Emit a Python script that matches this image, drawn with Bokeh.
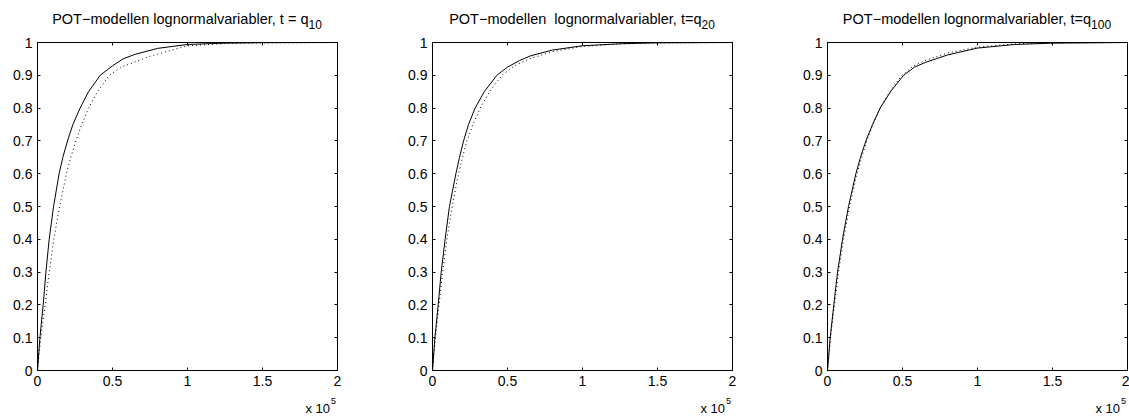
from bokeh.plotting import figure
from bokeh.models import Range1d, LinearAxis, FixedTicker, Div
from bokeh.layouts import row, column
from bokeh.embed import file_html
from bokeh.resources import INLINE

# x values are in units of 10^5
title_mains = ["POT\u2212modellen lognormalvariabler, t = q",
               "POT\u2212modellen&nbsp; lognormalvariabler, t=q",
               "POT\u2212modellen lognormalvariabler, t=q"]
title_subs = ["10", "20", "100"]
x_scale_base = "x 10"
x_scale_exp = "5"

x_ticks = [0, 0.5, 1, 1.5, 2]
x_tick_labels = ["0", "0.5", "1", "1.5", "2"]
y_ticks = [0, 0.1, 0.2, 0.3, 0.4, 0.5, 0.6, 0.7, 0.8, 0.9, 1]
y_tick_labels = ["0", "0.1", "0.2", "0.3", "0.4", "0.5", "0.6", "0.7", "0.8", "0.9", "1"]

# panel 1 (t = q10)
p1_solid_x = [0, 0.016, 0.038, 0.056, 0.078, 0.107, 0.144, 0.169, 0.2, 0.236, 0.284, 0.34, 0.418, 0.5, 0.57, 0.651, 0.8, 1.0, 1.25, 1.5, 2.0]
p1_solid_y = [0, 0.1, 0.2, 0.3, 0.4, 0.5, 0.6, 0.65, 0.7, 0.75, 0.8, 0.85, 0.9, 0.929, 0.95, 0.964, 0.982, 0.994, 0.998, 0.9995, 1.0]
p1_dot_x = [0, 0.022, 0.051, 0.078, 0.109, 0.147, 0.193, 0.222, 0.256, 0.295, 0.34, 0.4, 0.478, 0.56, 0.651, 0.75, 0.873, 1.0, 1.25, 1.5, 2.0]
p1_dot_y = [0, 0.1, 0.2, 0.3, 0.4, 0.5, 0.6, 0.65, 0.7, 0.75, 0.8, 0.85, 0.9, 0.925, 0.941, 0.958, 0.974, 0.99, 0.997, 0.999, 1.0]

# panel 2 (t = q20)
p2_solid_x = [0, 0.016, 0.038, 0.058, 0.084, 0.113, 0.156, 0.18, 0.207, 0.24, 0.284, 0.345, 0.429, 0.5, 0.58, 0.651, 0.8, 1.0, 1.25, 1.5, 2.0]
p2_solid_y = [0, 0.1, 0.2, 0.3, 0.4, 0.5, 0.6, 0.65, 0.7, 0.75, 0.8, 0.85, 0.9, 0.925, 0.945, 0.959, 0.977, 0.99, 0.996, 0.999, 1.0]
p2_dot_x = [0, 0.02, 0.044, 0.067, 0.096, 0.131, 0.173, 0.2, 0.229, 0.27, 0.318, 0.38, 0.462, 0.55, 0.651, 0.8, 1.0, 1.25, 1.5, 2.0]
p2_dot_y = [0, 0.1, 0.2, 0.3, 0.4, 0.5, 0.6, 0.65, 0.7, 0.75, 0.8, 0.85, 0.9, 0.93, 0.951, 0.972, 0.988, 0.996, 0.999, 1.0]

# panel 3 (t = q100)
p3_solid_x = [0, 0.018, 0.042, 0.067, 0.1, 0.14, 0.189, 0.22, 0.256, 0.3, 0.351, 0.42, 0.507, 0.58, 0.651, 0.8, 1.0, 1.25, 1.5, 2.0]
p3_solid_y = [0, 0.1, 0.2, 0.3, 0.4, 0.5, 0.6, 0.65, 0.7, 0.75, 0.8, 0.85, 0.9, 0.925, 0.939, 0.962, 0.983, 0.994, 0.998, 1.0]
p3_dot_x = [0, 0.02, 0.047, 0.073, 0.107, 0.147, 0.196, 0.228, 0.262, 0.303, 0.351, 0.415, 0.496, 0.57, 0.651, 0.8, 1.0, 1.25, 1.5, 2.0]
p3_dot_y = [0, 0.1, 0.2, 0.3, 0.4, 0.5, 0.6, 0.65, 0.7, 0.75, 0.8, 0.85, 0.9, 0.928, 0.945, 0.968, 0.986, 0.996, 0.999, 1.0]

FONT = "Liberation Sans"
TOP_H = 30
BOTTOM_H = 20
FIG_H = 416 - TOP_H - BOTTOM_H
FRAME_TOP = 42 - TOP_H


def style_axis(ax, ticks, labels, show_labels):
    ax.ticker = FixedTicker(ticks=ticks)
    if show_labels:
        ax.major_label_overrides = {t: l for t, l in zip(ticks, labels)}
    else:
        ax.major_label_overrides = {t: "" for t in ticks}
    ax.axis_line_color = "black"
    ax.axis_line_width = 1
    ax.major_tick_line_color = "black"
    ax.major_tick_in = 3
    ax.major_tick_out = 0
    ax.minor_tick_line_color = None
    ax.major_label_text_font = FONT
    ax.major_label_text_color = "black"
    ax.major_label_text_font_size = "14px"
    ax.major_label_standoff = 5 if show_labels else 0


def make_panel(width, main, sub, sx, sy, dx, dy):
    p = figure(width=width, height=FIG_H, x_range=Range1d(0, 2), y_range=Range1d(0, 1),
               output_backend="svg", toolbar_location=None,
               min_border_left=37, min_border_right=width - 337,
               min_border_top=FRAME_TOP, min_border_bottom=FIG_H - FRAME_TOP - 328)
    p.grid.grid_line_color = None
    p.outline_line_color = "black"
    p.background_fill_color = "white"
    p.border_fill_color = "white"
    style_axis(p.xaxis[0], x_ticks, x_tick_labels, True)
    style_axis(p.yaxis[0], y_ticks, y_tick_labels, True)
    top = LinearAxis()
    right = LinearAxis()
    style_axis(top, x_ticks, x_tick_labels, False)
    style_axis(right, y_ticks, y_tick_labels, False)
    p.add_layout(top, "above")
    p.add_layout(right, "right")

    p.line(sx, sy, line_color="black", line_width=1)
    p.line(dx, dy, line_color="black", line_width=1, line_dash="1 3")

    title_html = (
        f'<div style="margin:0 0 0 37px; padding:11px 0 0 0; width:300px; '
        f'text-align:center; white-space:nowrap; font-family:\'{FONT}\'; '
        f'font-size:14.5px; line-height:17px; color:black;">'
        f'{main}<span style="font-size:12px; position:relative; top:5px;">{sub}</span></div>'
    )
    scale_html = (
        f'<div style="margin:0 0 0 37px; padding:5px 0 0 0; width:299px; '
        f'text-align:right; white-space:nowrap; font-family:\'{FONT}\'; '
        f'font-size:13px; line-height:15px; color:black;">'
        f'{x_scale_base}<span style="font-size:9px; position:relative; top:-9px; '
        f'margin-left:1px;">{x_scale_exp}</span></div>'
    )
    tdiv = Div(text=title_html, width=width, height=TOP_H, margin=0)
    bdiv = Div(text=scale_html, width=width, height=BOTTOM_H, margin=0)
    return column(tdiv, p, bdiv, spacing=0)


c1 = make_panel(395, title_mains[0], title_subs[0], p1_solid_x, p1_solid_y, p1_dot_x, p1_dot_y)
c2 = make_panel(395, title_mains[1], title_subs[1], p2_solid_x, p2_solid_y, p2_dot_x, p2_dot_y)
c3 = make_panel(339, title_mains[2], title_subs[2], p3_solid_x, p3_solid_y, p3_dot_x, p3_dot_y)

layout = row(c1, c2, c3, spacing=0)
open("out.html", "w").write(file_html(layout, INLINE))
